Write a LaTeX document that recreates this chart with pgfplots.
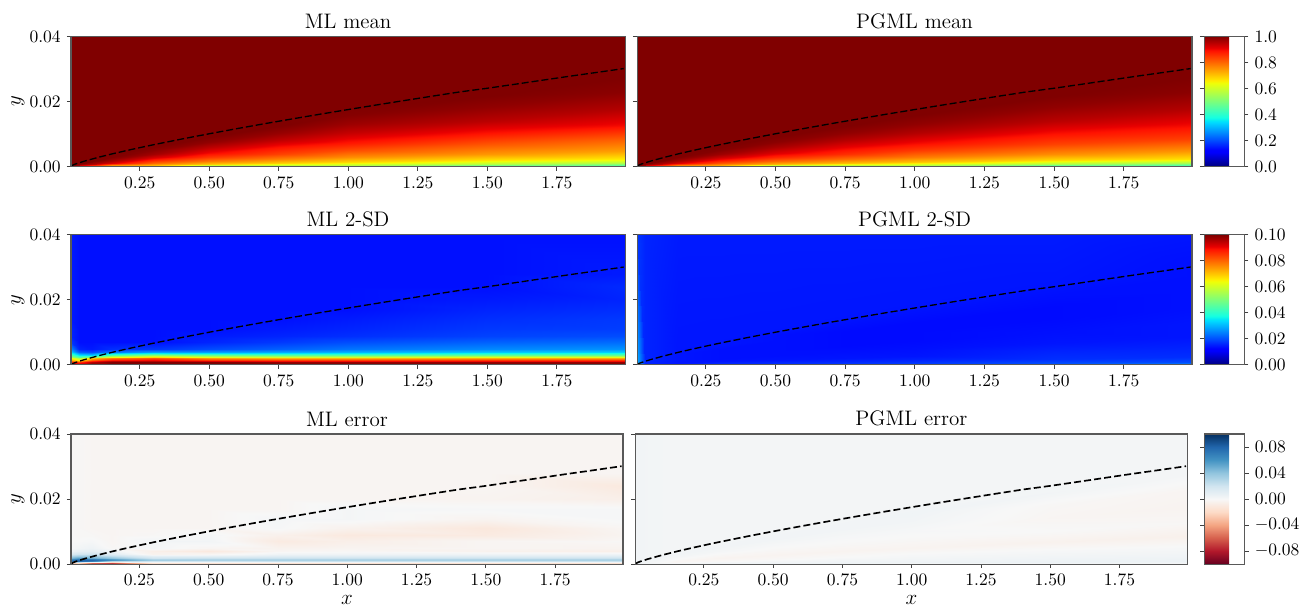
\documentclass[border=0pt]{standalone}
\usepackage{pgfplots}
\usepackage{pgfplotstable}
\pgfplotsset{compat=1.18}
\pgfplotstableread{
x y m1 m2 s2 e2
.003 0 .6 .6 .035 .001
.003 .000005 .75 .75 .03 .003
.003 .000013 .85 .85 .03 .003
.003 .000027 .92 .92 .03 .003
.003 .000047 .97 .97 .03 .003
.003 .00007 1 1 .03 .003
.003 .0001 1 1 .03 .003
.003 .00013 1 1 .03 .003
.003 .00015 1 1 .03 .003
.003 .00018 1 1 .03 .003
.003 .04 1 1 .018 .003
.03 0 .55 .55 .024 0
.03 .00003 .7 .72 .018 .004
.03 .00008 .8 .82 .017 .004
.03 .00017 .88 .89 .016 .003
.03 .0003 .94 .94 .016 .003
.03 .00045 .97 .97 .016 .003
.03 .00061 .99 .99 .016 .003
.03 .0008 1 1 .016 .003
.03 .00095 1 1 .016 .003
.03 .00111 1 1 .016 .003
.03 .04 1 1 .016 .003
.15 0 .5 .48 .024 0
.15 .00012 .65 .66 .017 .002
.15 .00031 .76 .78 .016 .001
.15 .00061 .85 .86 .0145 -.002
.15 .00108 .92 .92 .0145 -.002
.15 .00161 .96 .96 .0145 0
.15 .00223 .985 .985 .0145 .002
.15 .00288 1 1 .0145 .003
.15 .00346 1 1 .0145 .003
.15 .00403 1 1 .0145 .002
.15 .04 1 1 .015 .002
.3 0 .45 .42 .026 0
.3 .0002 .62 .62 .017 .003
.3 .00053 .72 .74 .016 .002
.3 .00107 .8 .82 .0145 -.001
.3 .00187 .87 .89 .014 -.003
.3 .00281 .93 .94 .014 -.001
.3 .00387 .97 .975 .014 .002
.3 .00501 .99 .995 .014 .003
.3 .00601 1 1 .0145 .003
.3 .00701 1 1 .0145 .002
.3 .04 1 1 .015 .002
.5 0 .42 .4 .026 0
.5 .0003 .6 .6 .017 .004
.5 .0008 .7 .72 .016 .002
.5 .00161 .78 .8 .0145 -.001
.5 .00281 .85 .87 .014 -.003
.5 .00422 .9 .92 .014 -.001
.5 .00583 .95 .965 .014 .001
.5 .00754 .985 .99 .014 .003
.5 .00905 1 1 .014 .003
.5 .01055 1 1 .0145 .002
.5 .04 1 1 .015 .002
.75 0 .42 .4 .027 0
.75 .00042 .59 .59 .018 .005
.75 .00111 .69 .71 .016 .003
.75 .00222 .77 .79 .0145 0
.75 .00389 .84 .86 .014 -.003
.75 .00584 .89 .91 .0135 -.001
.75 .00806 .945 .955 .0135 .001
.75 .01043 .98 .985 .0135 .003
.75 .01251 1 1 .014 .003
.75 .0146 1 1 .0145 .002
.75 .04 1 1 .015 .002
1 0 .42 .4 .027 0
1 .00053 .58 .58 .018 .005
1 .0014 .68 .7 .016 .003
1 .0028 .76 .78 .0145 .001
1 .0049 .83 .85 .014 -.003
1 .00735 .885 .9 .0135 -.001
1 .01015 .94 .955 .0135 .001
1 .01313 .975 .985 .0135 .003
1 .01575 .995 1 .014 .004
1 .01838 1 1 .0145 .002
1 .04 1 1 .015 .002
1.5 0 .42 .4 .028 0
1.5 .00073 .57 .56 .02 .006
1.5 .00194 .67 .68 .017 .004
1.5 .00387 .75 .76 .016 .001
1.5 .00678 .82 .84 .0145 -.004
1.5 .01016 .89 .895 .014 0
1.5 .01404 .95 .95 .0135 -.002
1.5 .01815 .985 .985 .0135 -.001
1.5 .02178 1 1 .014 .003
1.5 .02541 1 1 .0145 .002
1.5 .04 1 1 .015 .002
1.995 0 .42 .4 .028 0
1.995 .00091 .56 .55 .02 .006
1.995 .00243 .66 .67 .017 .004
1.995 .00486 .74 .75 .016 .001
1.995 .00851 .81 .84 .0145 -.005
1.995 .01277 .9 .9 .0145 -.001
1.995 .01763 .955 .955 .014 -.003
1.995 .0228 .99 .99 .014 -.002
1.995 .02736 1 1 .014 .002
1.995 .03192 1 1 .014 .002
1.995 .04 1 1 .0145 .002
}\meshA
\pgfplotstableread{
x y s1 e1
.003 0 .1 -.09
.003 .0004 .095 -.03
.003 .0008 .088 .07
.003 .0012 .08 .07
.003 .0016 .072 .06
.003 .002 .065 .045
.003 .0025 .055 .03
.003 .003 .045 .015
.003 .004 .033 .004
.003 .005 .026 .001
.003 .007 .018 0
.003 .009 .016 0
.003 .011 .016 0
.003 .014 .015 0
.003 .017 .015 0
.003 .02 .015 0
.003 .024 .015 0
.003 .028 .015 0
.003 .04 .015 -.001
.03 0 .1 -.09
.03 .0004 .095 -.02
.03 .0008 .085 .08
.03 .0012 .075 .08
.03 .0016 .065 .07
.03 .002 .055 .055
.03 .0025 .045 .035
.03 .003 .035 .02
.03 .004 .022 .008
.03 .005 .016 .003
.03 .007 .014 0
.03 .009 .014 -.001
.03 .011 .014 -.001
.03 .014 .014 -.001
.03 .017 .014 -.001
.03 .02 .014 -.001
.03 .024 .014 -.001
.03 .028 .014 -.001
.03 .04 .014 -.001
.08 0 .1 -.1
.08 .0004 .1 -.06
.08 .0008 .095 .07
.08 .0012 .088 .08
.08 .0016 .08 .07
.08 .002 .07 .05
.08 .0025 .05 .035
.08 .003 .033 .02
.08 .004 .02 .01
.08 .005 .015 .005
.08 .007 .014 .001
.08 .009 .014 -.001
.08 .011 .014 -.002
.08 .014 .014 -.002
.08 .017 .014 -.002
.08 .02 .014 -.002
.08 .024 .014 -.002
.08 .028 .014 -.002
.08 .04 .014 -.002
.15 0 .1 -.1
.15 .0004 .1 -.07
.15 .0008 .1 .03
.15 .0012 .095 .06
.15 .0016 .088 .055
.15 .002 .078 .04
.15 .0025 .063 .025
.15 .003 .045 .012
.15 .004 .024 .004
.15 .005 .017 -.001
.15 .007 .014 -.002
.15 .009 .014 -.002
.15 .011 .014 -.002
.15 .014 .014 -.002
.15 .017 .014 -.002
.15 .02 .014 -.002
.15 .024 .014 -.002
.15 .028 .014 -.002
.15 .04 .014 -.002
.3 0 .1 -.08
.3 .0004 .1 -.015
.3 .0008 .1 .02
.3 .0012 .095 .035
.3 .0016 .09 .03
.3 .002 .082 .02
.3 .0025 .068 .01
.3 .003 .052 -.004
.3 .004 .028 -.006
.3 .005 .018 .002
.3 .007 .014 .003
.3 .009 .014 -.001
.3 .011 .014 -.002
.3 .014 .014 -.002
.3 .017 .014 -.002
.3 .02 .014 -.002
.3 .024 .014 -.002
.3 .028 .014 -.002
.3 .04 .014 -.002
.5 0 .1 -.08
.5 .0004 .1 -.015
.5 .0008 .1 .02
.5 .0012 .092 .032
.5 .0016 .085 .03
.5 .002 .075 .022
.5 .0025 .062 .01
.5 .003 .048 -.002
.5 .004 .028 -.01
.5 .005 .02 -.002
.5 .007 .016 .003
.5 .009 .015 .002
.5 .011 .014 -.002
.5 .014 .014 -.002
.5 .017 .014 -.002
.5 .02 .014 -.002
.5 .024 .014 -.002
.5 .028 .014 -.002
.5 .04 .014 -.002
.75 0 .1 -.08
.75 .0004 .1 -.015
.75 .0008 .098 .022
.75 .0012 .09 .032
.75 .0016 .084 .03
.75 .002 .072 .022
.75 .0025 .06 .012
.75 .003 .046 .004
.75 .004 .029 -.002
.75 .005 .022 -.004
.75 .007 .018 -.009
.75 .009 .016 -.005
.75 .011 .015 .001
.75 .014 .014 .002
.75 .017 .014 -.002
.75 .02 .014 -.002
.75 .024 .014 -.002
.75 .028 .014 -.002
.75 .04 .014 -.002
1 0 .1 -.08
1 .0004 .1 -.015
1 .0008 .098 .022
1 .0012 .09 .032
1 .0016 .084 .03
1 .002 .072 .022
1 .0025 .06 .012
1 .003 .046 .004
1 .004 .03 -.001
1 .005 .024 -.003
1 .007 .02 -.006
1 .009 .017 -.01
1 .011 .016 -.004
1 .014 .015 .002
1 .017 .014 .002
1 .02 .014 -.002
1 .024 .014 -.002
1 .028 .014 -.002
1 .04 .014 -.002
1.5 0 .1 -.08
1.5 .0004 .1 -.015
1.5 .0008 .098 .022
1.5 .0012 .09 .032
1.5 .0016 .085 .03
1.5 .002 .073 .022
1.5 .0025 .062 .012
1.5 .003 .047 .004
1.5 .004 .032 -.004
1.5 .005 .026 -.002
1.5 .007 .022 -.002
1.5 .009 .019 -.009
1.5 .011 .018 -.011
1.5 .014 .017 -.003
1.5 .017 .016 .001
1.5 .02 .015 -.003
1.5 .024 .014 -.002
1.5 .028 .014 -.002
1.5 .04 .014 -.002
1.995 0 .1 -.08
1.995 .0004 .1 -.015
1.995 .0008 .098 .022
1.995 .0012 .09 .032
1.995 .0016 .085 .03
1.995 .002 .073 .022
1.995 .0025 .062 .012
1.995 .003 .047 .004
1.995 .004 .033 -.006
1.995 .005 .027 -.003
1.995 .007 .023 -.001
1.995 .009 .02 -.003
1.995 .011 .0185 -.002
1.995 .014 .018 .001
1.995 .017 .017 .001
1.995 .02 .016 -.006
1.995 .024 .0165 -.01
1.995 .028 .015 -.002
1.995 .04 .014 -.002
}\meshB
\pgfplotstableread{
x y
.003 .00001
.01 .00044
.02 .00077
.05 .00159
.1 .00277
.15 .00384
.2 .00483
.25 .00577
.3 .00668
.4 .00841
.5 .01005
.6 .01163
.7 .01316
.8 .01464
.9 .01609
1 .0175
1.1 .01889
1.2 .02025
1.3 .02159
1.4 .02291
1.5 .02405
1.6 .02529
1.7 .02655
1.8 .0278
1.9 .029
1.99 .0301
}\delta
\pgfplotsset{
  colormap={mjet}{rgb(0pt)=(0,0,.5); rgb(110pt)=(0,0,1); rgb(125pt)=(0,0,1); rgb(340pt)=(0,.86,1); rgb(350pt)=(0,.9,.97); rgb(375pt)=(.08,1,.887); rgb(640pt)=(.935,1,.03); rgb(660pt)=(1,.926,0); rgb(890pt)=(1,.07,0); rgb(910pt)=(.909,0,0); rgb(1000pt)=(.5,0,0)},
  colormap={mrdbu}{rgb(0pt)=(.404,0,.122); rgb(100pt)=(.698,.094,.169); rgb(200pt)=(.839,.376,.302); rgb(300pt)=(.957,.647,.510); rgb(400pt)=(.992,.859,.780); rgb(500pt)=(.969,.969,.969); rgb(600pt)=(.820,.898,.941); rgb(700pt)=(.573,.773,.871); rgb(800pt)=(.263,.576,.765); rgb(900pt)=(.129,.400,.675); rgb(1000pt)=(.020,.188,.380)},
  panel/.style={
    scale only axis, anchor=south west, height=74.3pt,
    xmin=.003, xmax=1.995, ymin=0, ymax=.04,
    xtick={.25,.5,.75,1,1.25,1.5,1.75}, ytick={0,.02,.04},
    xticklabel style={/pgf/number format/fixed,/pgf/number format/fixed zerofill,/pgf/number format/precision=2},
    yticklabel style={/pgf/number format/fixed,/pgf/number format/fixed zerofill,/pgf/number format/precision=2},
    scaled ticks=false,
    tick align=outside, xtick pos=bottom, ytick pos=left,
    major tick length=2.4pt,
    every tick/.style={black!75,line width=.5pt},
    axis line style={draw=black!65,line width=.6pt},
    axis on top,
    title style={font=\large,yshift=-5.2pt},
  },
  lpanel/.style={panel,ylabel={$y$},ylabel style={at={(axis description cs:-.096,.5)},anchor=center,font=\large}},
  rpanel/.style={panel,yticklabels={}},
  bline/.style={black,line width=.75pt,dash pattern=on 4pt off 1.7pt},
  bline3/.style={black,line width=.95pt,dash pattern=on 4pt off 1.8pt},
  heat/.style={surf,shader=interp,point meta=explicit},
  cb/.style={colorbar,colorbar style={
    at={(parent axis.north east)},anchor=north west,xshift=#1,
    width=22.9pt,
    tick align=outside,major tick length=2.4pt,
    every tick/.style={black!75,line width=.5pt},
    axis line style={draw=black!65,line width=.6pt},
    yticklabel pos=right,
    scaled ticks=false,
    yticklabel style={/pgf/number format/fixed,/pgf/number format/fixed zerofill,/pgf/number format/precision=2}}},
}
\begin{document}
\begin{tikzpicture}
\path[use as bounding box] (0,0) rectangle (750.25pt,347.4pt);
% row 1
\begin{axis}[lpanel,at={(40.57pt,252.3pt)},width=316.6pt,title={ML mean},colormap name=mjet,point meta min=0,point meta max=1]
\addplot[heat,mesh/ordering=y varies,mesh/rows=11,mesh/cols=9] table[x=x,y=y,meta=m1]{\meshA};
\addplot[bline] table[x=x,y=y]{\delta};
\end{axis}
\begin{axis}[rpanel,at={(364pt,252.3pt)},width=317.1pt,title={PGML mean},colormap name=mjet,point meta min=0,point meta max=1,
  cb=-1.6pt,colorbar style={ytick={0,.2,.4,.6,.8,1},yticklabel style={/pgf/number format/precision=1}}]
\addplot[heat,mesh/ordering=y varies,mesh/rows=11,mesh/cols=9] table[x=x,y=y,meta=m2]{\meshA};
\addplot[bline] table[x=x,y=y]{\delta};
\end{axis}
% row 2
\begin{axis}[lpanel,at={(40.57pt,138.9pt)},width=316.6pt,title={ML 2-SD},colormap name=mjet,point meta min=0,point meta max=.1]
\addplot[heat,mesh/ordering=y varies,mesh/rows=19,mesh/cols=10] table[x=x,y=y,meta=s1]{\meshB};
\addplot[bline] table[x=x,y=y]{\delta};
\end{axis}
\begin{axis}[rpanel,at={(364pt,138.9pt)},width=317.1pt,title={PGML 2-SD},colormap name=mjet,point meta min=0,point meta max=.1,
  cb=-1.6pt,colorbar style={ytick={0,.02,.04,.06,.08,.1}}]
\addplot[heat,mesh/ordering=y varies,mesh/rows=11,mesh/cols=9] table[x=x,y=y,meta=s2]{\meshA};
\addplot[bline] table[x=x,y=y]{\delta};
\end{axis}
% row 3
\begin{axis}[lpanel,at={(40.57pt,25.1pt)},width=315.4pt,title={ML error},xlabel={$x$},xlabel style={font=\large,yshift=1.5pt},colormap name=mrdbu,point meta min=-.1,point meta max=.1]
\addplot[heat,mesh/ordering=y varies,mesh/rows=19,mesh/cols=10] table[x=x,y=y,meta=e1]{\meshB};
\addplot[bline3] table[x=x,y=y]{\delta};
\end{axis}
\begin{axis}[rpanel,at={(363.1pt,25.1pt)},width=315.4pt,title={PGML error},xlabel={$x$},xlabel style={font=\large,yshift=1.5pt},colormap name=mrdbu,point meta min=-.1,point meta max=.1,
  cb=1.1pt,colorbar style={ytick={-.08,-.04,0,.04,.08}}]
\addplot[heat,mesh/ordering=y varies,mesh/rows=11,mesh/cols=9] table[x=x,y=y,meta=e2]{\meshA};
\addplot[bline3] table[x=x,y=y]{\delta};
\end{axis}
\end{tikzpicture}
\end{document}
